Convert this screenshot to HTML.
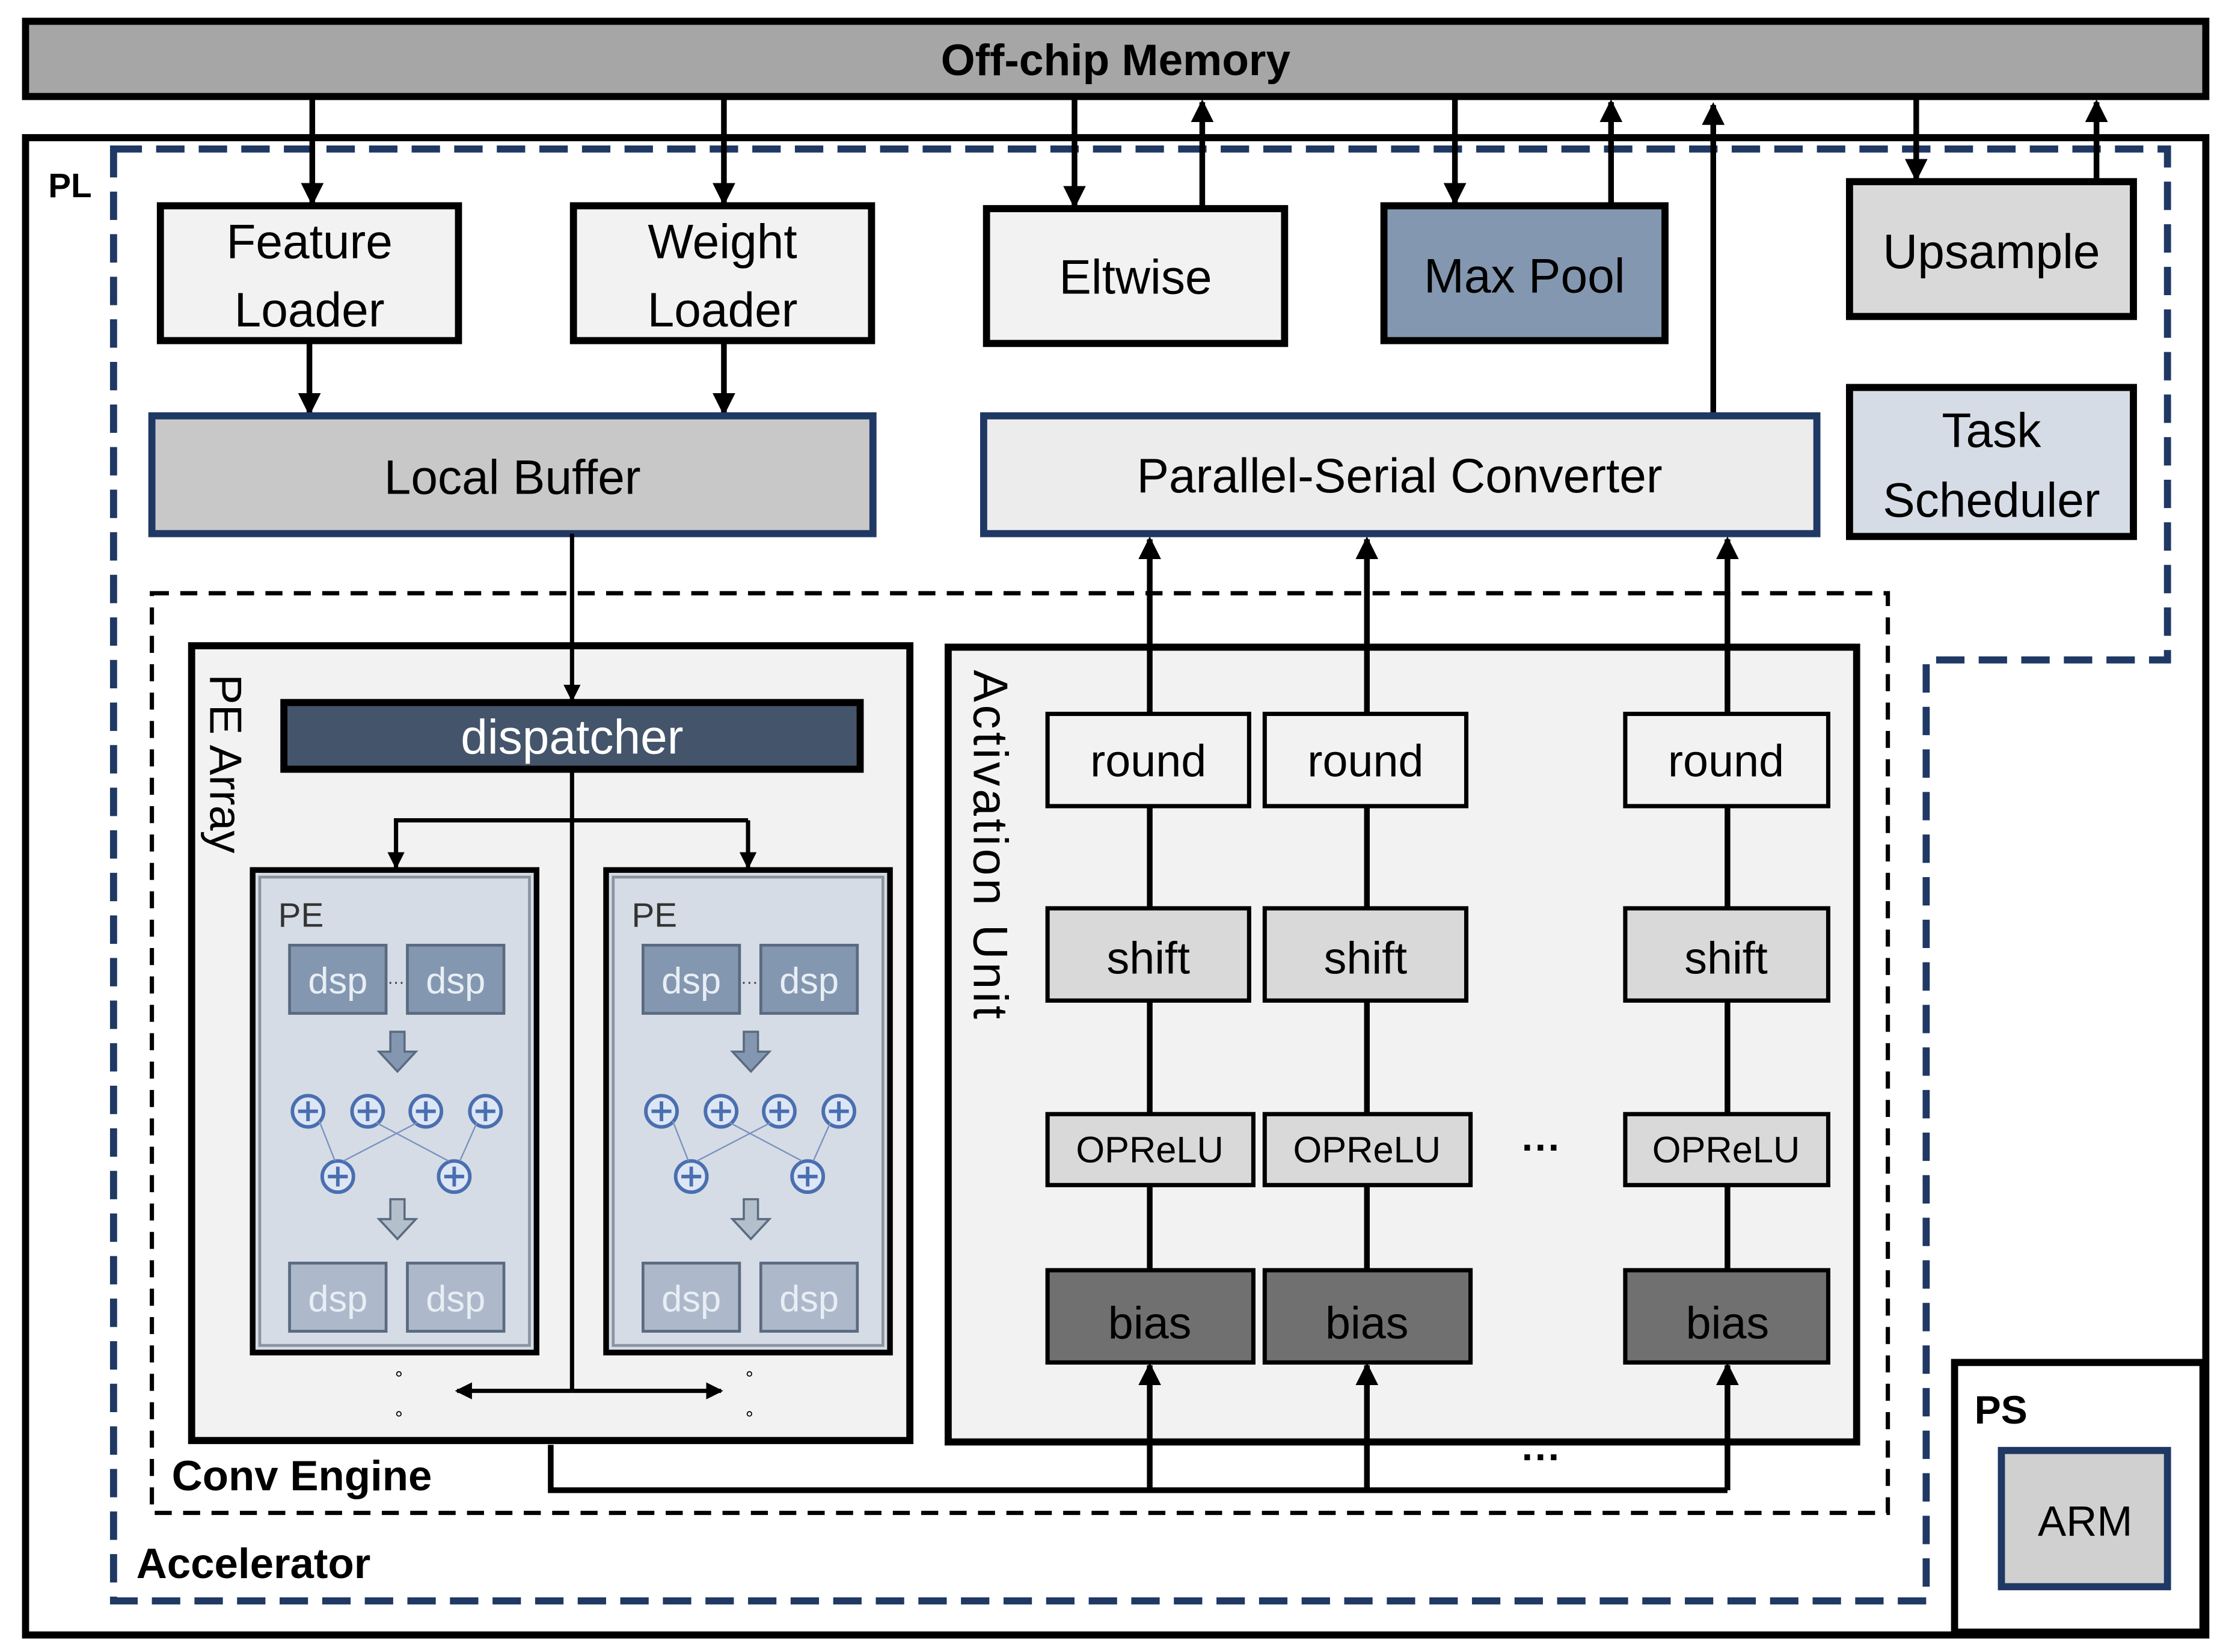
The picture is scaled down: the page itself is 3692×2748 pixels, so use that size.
<!DOCTYPE html>
<html><head><meta charset="utf-8"><style>html,body{margin:0;padding:0;background:#fff}svg{display:block}</style></head>
<body>
<svg xmlns="http://www.w3.org/2000/svg" width="3692" height="2748" viewBox="0 0 1564 1164" preserveAspectRatio="none" font-family="Liberation Sans, DejaVu Sans, sans-serif">
<defs>
<marker id="a" markerWidth="4" markerHeight="4" refX="3.5" refY="2" orient="auto" markerUnits="strokeWidth"><path d="M0,0 L4,2 L0,4 z" fill="#000"/></marker>
<g id="pe">
<rect x="178" y="613" width="200" height="340" fill="#d6dce5" stroke="#000" stroke-width="4"/>
<rect x="183" y="618" width="190" height="330" fill="none" stroke="#8a94a0" stroke-width="2"/>
<text x="196" y="653" font-size="24" fill="#333">PE</text>
<rect x="204" y="666" width="68" height="48" fill="#8497b0" stroke="#5a6a80" stroke-width="2"/>
<rect x="287" y="666" width="68" height="48" fill="#8497b0" stroke="#5a6a80" stroke-width="2"/>
<text x="238" y="700" font-size="26" fill="#e8eef5" text-anchor="middle">dsp</text>
<text x="321" y="700" font-size="26" fill="#e8eef5" text-anchor="middle">dsp</text>
<text x="279" y="696" font-size="12" fill="#333" text-anchor="middle">···</text>
<path d="M275,727 h10 v14 h8 l-13,14 l-13,-14 h8 z" fill="#8497b0" stroke="#5a6a80" stroke-width="1.5"/>
<g fill="#dde6f5" stroke="#4a6fb0" stroke-width="2.5">
<circle cx="217" cy="783" r="11"/><circle cx="259" cy="783" r="11"/><circle cx="300" cy="783" r="11"/><circle cx="342" cy="783" r="11"/>
<circle cx="238" cy="829" r="11"/><circle cx="320" cy="829" r="11"/>
</g>
<g stroke="#4a6fb0" stroke-width="2.5">
<path d="M210,783h14M217,776v14M252,783h14M259,776v14M293,783h14M300,776v14M335,783h14M342,776v14M231,829h14M238,822v14M313,829h14M320,822v14"/>
</g>
<g stroke="#7a92c0" stroke-width="1"><path d="M225,790 L236,818 M294,791 L242,818 M265,791 L316,818 M336,791 L324,818"/></g>
<path d="M275,845 h10 v14 h8 l-13,14 l-13,-14 h8 z" fill="#b4bfcc" stroke="#5a6a80" stroke-width="1.5"/>
<rect x="204" y="890" width="68" height="48" fill="#adb9ca" stroke="#5a6a80" stroke-width="2"/>
<rect x="287" y="890" width="68" height="48" fill="#adb9ca" stroke="#5a6a80" stroke-width="2"/>
<text x="238" y="924" font-size="26" fill="#e8eef5" text-anchor="middle">dsp</text>
<text x="321" y="924" font-size="26" fill="#e8eef5" text-anchor="middle">dsp</text>
</g>
</defs>
<rect width="1564" height="1164" fill="#fff"/>
<rect x="18" y="15" width="1536" height="53" fill="#a6a6a6" stroke="#000" stroke-width="5"/>
<text x="786" y="53" font-size="31" font-weight="bold" text-anchor="middle">Off-chip Memory</text>
<rect x="18" y="97" width="1536" height="1055" fill="#fff" stroke="#000" stroke-width="5"/>
<text x="34" y="139" font-size="24" font-weight="bold">PL</text>
<path d="M80,105 H1527 V465 H1357 V1128 H80 Z" fill="none" stroke="#1f3864" stroke-width="5" stroke-dasharray="20,10"/>
<text x="96" y="1112" font-size="30" font-weight="bold">Accelerator</text>
<rect x="1377" y="960" width="175" height="190" fill="#fff" stroke="#000" stroke-width="5"/>
<text x="1391" y="1003" font-size="28" font-weight="bold">PS</text>
<rect x="1410" y="1022" width="117" height="96" fill="#d0d0d0" stroke="#1f3864" stroke-width="5"/>
<text x="1469" y="1082" font-size="30" text-anchor="middle">ARM</text>
<g stroke="#000" stroke-width="4" fill="none">
<line x1="220" y1="68" x2="220" y2="143" marker-end="url(#a)"/>
<line x1="510" y1="68" x2="510" y2="143" marker-end="url(#a)"/>
<line x1="757" y1="68" x2="757" y2="145" marker-end="url(#a)"/>
<line x1="847" y1="147" x2="847" y2="72" marker-end="url(#a)"/>
<line x1="1025" y1="68" x2="1025" y2="143" marker-end="url(#a)"/>
<line x1="1135" y1="145" x2="1135" y2="72" marker-end="url(#a)"/>
<line x1="1207" y1="293" x2="1207" y2="74" marker-end="url(#a)"/>
<line x1="1350" y1="68" x2="1350" y2="126" marker-end="url(#a)"/>
<line x1="1477" y1="128" x2="1477" y2="72" marker-end="url(#a)"/>
<line x1="218" y1="240" x2="218" y2="291" marker-end="url(#a)"/>
<line x1="510" y1="240" x2="510" y2="291" marker-end="url(#a)"/>
</g>
<g stroke="#000" stroke-width="5">
<rect x="113" y="145" width="210" height="95" fill="#f2f2f2"/>
<rect x="404" y="145" width="210" height="95" fill="#f2f2f2"/>
<rect x="695" y="147" width="210" height="95" fill="#f2f2f2"/>
<rect x="975" y="145" width="198" height="95" fill="#8497b0"/>
<rect x="1303" y="128" width="200" height="95" fill="#d9d9d9"/>
<rect x="1303" y="273" width="200" height="105" fill="#d6dce5"/>
</g>
<g font-size="34" text-anchor="middle">
<text x="218" y="182">Feature</text><text x="218" y="230">Loader</text>
<text x="509" y="182">Weight</text><text x="509" y="230">Loader</text>
<text x="800" y="207">Eltwise</text>
<text x="1074" y="206">Max Pool</text>
<text x="1403" y="189">Upsample</text>
<text x="1403" y="315">Task</text><text x="1403" y="364">Scheduler</text>
</g>
<rect x="107" y="293" width="508" height="83" fill="#c8c8c8" stroke="#1f3864" stroke-width="5"/>
<text x="361" y="348" font-size="34" text-anchor="middle">Local Buffer</text>
<rect x="693" y="293" width="587" height="83" fill="#ececec" stroke="#1f3864" stroke-width="5"/>
<text x="986" y="347" font-size="34" text-anchor="middle">Parallel-Serial Converter</text>
<rect x="107" y="418" width="1223" height="648" fill="none" stroke="#000" stroke-width="3" stroke-dasharray="12,8"/>
<text x="121" y="1050" font-size="30" font-weight="bold">Conv Engine</text>
<rect x="135" y="455" width="506" height="560" fill="#f2f2f2" stroke="#000" stroke-width="5"/>
<text transform="translate(148,475) rotate(90)" font-size="32">PE Array</text>
<use href="#pe"/>
<use href="#pe" x="249"/>
<g stroke="#000" stroke-width="3" fill="none">
<line x1="403" y1="376" x2="403" y2="493" marker-end="url(#a)"/>
<line x1="403" y1="542" x2="403" y2="980"/>
<path d="M527,578 H279 V611" marker-end="url(#a)"/>
<line x1="527" y1="578" x2="527" y2="611" marker-end="url(#a)"/>
<line x1="403" y1="980" x2="508" y2="980" marker-end="url(#a)"/>
<line x1="403" y1="980" x2="322" y2="980" marker-end="url(#a)"/>
</g>
<rect x="200" y="495" width="406" height="47" fill="#44546a" stroke="#000" stroke-width="5"/>
<text x="403" y="531" font-size="34" fill="#fff" text-anchor="middle">dispatcher</text>
<g font-size="14" text-anchor="middle"><text x="281" y="976">°</text><text x="281" y="1004">°</text><text x="528" y="976">°</text><text x="528" y="1004">°</text></g>
<rect x="668" y="456" width="640" height="560" fill="#f2f2f2" stroke="#000" stroke-width="5"/>
<text transform="translate(686,472) rotate(90)" font-size="34" textLength="246" lengthAdjust="spacing">Activation Unit</text>
<g stroke="#000" stroke-width="4" fill="none">
<line x1="810" y1="503" x2="810" y2="380" marker-end="url(#a)"/>
<line x1="963" y1="503" x2="963" y2="380" marker-end="url(#a)"/>
<line x1="1217" y1="503" x2="1217" y2="380" marker-end="url(#a)"/>
<line x1="810" y1="568" x2="810" y2="895"/>
<line x1="963" y1="568" x2="963" y2="895"/>
<line x1="1217" y1="568" x2="1217" y2="895"/>
<path d="M388,1018 V1050 H1217"/>
<line x1="810" y1="1050" x2="810" y2="962" marker-end="url(#a)"/>
<line x1="963" y1="1050" x2="963" y2="962" marker-end="url(#a)"/>
<line x1="1217" y1="1050" x2="1217" y2="962" marker-end="url(#a)"/>
</g>
<g stroke="#000" stroke-width="3">
<rect x="738" y="503" width="142" height="65" fill="#f2f2f2"/><rect x="891" y="503" width="142" height="65" fill="#f2f2f2"/><rect x="1145" y="503" width="143" height="65" fill="#f2f2f2"/>
<rect x="738" y="640" width="142" height="65" fill="#d9d9d9"/><rect x="891" y="640" width="142" height="65" fill="#d9d9d9"/><rect x="1145" y="640" width="143" height="65" fill="#d9d9d9"/>
<rect x="738" y="785" width="145" height="50" fill="#d9d9d9"/><rect x="891" y="785" width="145" height="50" fill="#d9d9d9"/><rect x="1145" y="785" width="143" height="50" fill="#d9d9d9"/>
<rect x="738" y="895" width="145" height="65" fill="#707070"/><rect x="891" y="895" width="145" height="65" fill="#707070"/><rect x="1145" y="895" width="143" height="65" fill="#707070"/>
</g>
<g font-size="32" text-anchor="middle">
<text x="809" y="547">round</text><text x="962" y="547">round</text><text x="1216" y="547">round</text>
<text x="809" y="686">shift</text><text x="962" y="686">shift</text><text x="1216" y="686">shift</text>
<text x="810" y="943">bias</text><text x="963" y="943">bias</text><text x="1217" y="943">bias</text>
</g>
<g font-size="26" text-anchor="middle">
<text x="810" y="819">OPReLU</text><text x="963" y="819">OPReLU</text><text x="1216" y="819">OPReLU</text>
</g>
<text x="1086" y="818" font-size="28" font-weight="bold" text-anchor="middle">···</text>
<text x="1086" y="1036" font-size="28" font-weight="bold" text-anchor="middle">···</text>
</svg>
</body></html>
